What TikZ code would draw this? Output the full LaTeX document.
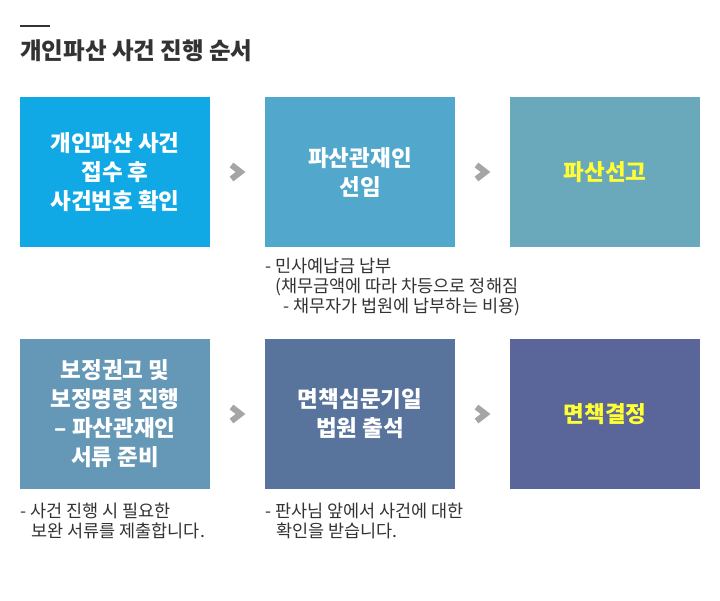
\documentclass[tikz,border=0pt]{standalone}
\usepackage{fontspec}
\setmainfont{Noto Sans CJK KR}
\usetikzlibrary{calc}

\definecolor{stepA}{HTML}{10A9E5}
\definecolor{stepB}{HTML}{52A8CC}
\definecolor{stepC}{HTML}{6AA9BC}
\definecolor{stepD}{HTML}{6597B6}
\definecolor{stepE}{HTML}{58739C}
\definecolor{stepF}{HTML}{5A6699}
\definecolor{chevgray}{HTML}{A5A5A5}
\definecolor{notegray}{HTML}{333333}
\definecolor{hilite}{HTML}{FFFF33}

\tikzset{
  stepbox/.style={minimum width=190pt, minimum height=150pt, inner sep=0pt,
    align=center, text=white, font=\fontsize{22.5}{29}\selectfont\bfseries},
  chev/.style={draw=chevgray, line width=6pt, line join=miter},
  note/.style={anchor=north west, align=left, inner sep=0pt, text=notegray,
    font=\fontsize{17.5}{20}\selectfont}
}

\begin{document}
\begin{tikzpicture}[x=1pt, y=-1pt]
    \useasboundingbox[fill=white] (0,0) rectangle (720,601);

    % Title
    \draw[notegray, line width=2.5pt] (20,26) -- (50,26);
    \node[anchor=base west, inner sep=0pt, text=notegray,
      font=\fontsize{23.5}{26}\selectfont\bfseries] (title) at (20,60)
      {개인파산 사건 진행 순서};

    % First row
    \node[stepbox, fill=stepA] (filing) at (115,172) {개인파산 사건\\접수 후\\사건번호 확인};
    \node[stepbox, fill=stepB] (trustee) at (360,172) {파산관재인\\선임};
    \node[stepbox, fill=stepC, text=hilite] (declare) at (605,172) {파산선고};

    % Second row
    \node[stepbox, fill=stepD] (correct) at (115,414) {보정권고 및\\보정명령 진행\\ – 파산관재인\\서류 준비};
    \node[stepbox, fill=stepE] (hearing) at (360,414) {면책심문기일\\법원 출석};
    \node[stepbox, fill=stepF, text=hilite] (discharge) at (605,414) {면책결정};

    % Chevrons between the steps
    \draw[chev] ($(filing.east)!.5!(trustee.west)$) ++(-6,-7) -- ++(9,7) -- ++(-9,7);
    \draw[chev] ($(trustee.east)!.5!(declare.west)$) ++(-6,-7) -- ++(9,7) -- ++(-9,7);
    \draw[chev] ($(correct.east)!.5!(hearing.west)$) ++(-6,-7) -- ++(9,7) -- ++(-9,7);
    \draw[chev] ($(hearing.east)!.5!(discharge.west)$) ++(-6,-7) -- ++(9,7) -- ++(-9,7);

    % Notes under the boxes
    \node[note] (feeNote) at (265,258) {- 민사예납금 납부\\
      \hspace*{10pt}(채무금액에 따라 차등으로 정해짐\\
      \hspace*{18pt}- 채무자가 법원에 납부하는 비용)};
    \node[note] (paperNote) at (20,503) {- 사건 진행 시 필요한\\
      \hspace*{11pt}보완 서류를 제출합니다.};
    \node[note] (judgeNote) at (265,503) {- 판사님 앞에서 사건에 대한\\
      \hspace*{11pt}확인을 받습니다.};
\end{tikzpicture}
\end{document}
